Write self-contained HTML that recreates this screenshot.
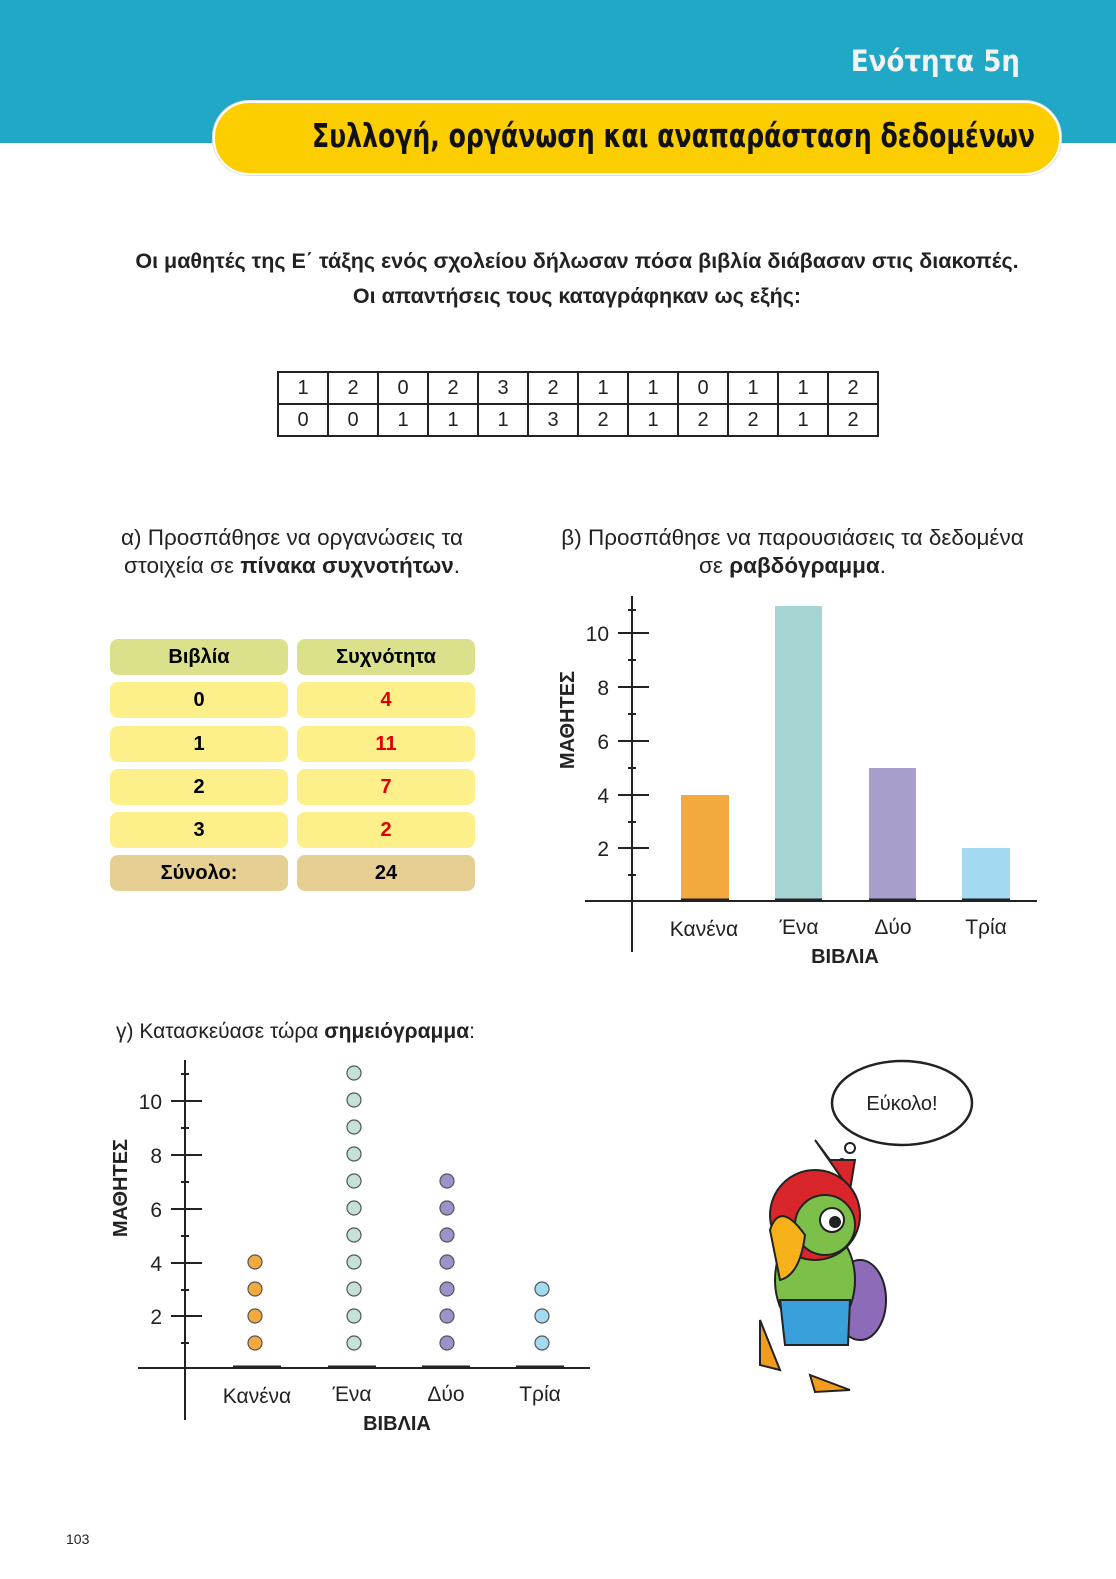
<!DOCTYPE html>
<html><head><meta charset="utf-8"><style>
body{margin:0;width:1116px;height:1579px;position:relative;background:#fff;font-family:"Liberation Sans","DejaVu Sans",sans-serif;overflow:hidden}
.a{position:absolute}
.t{position:absolute;white-space:nowrap}
table.d{position:absolute;left:277px;top:371px;border-collapse:collapse}
table.d td{border:2px solid #222;width:48px;height:30px;text-align:center;font-size:20px;padding:0;color:#222}
.c{position:absolute;border-radius:8px;text-align:center;font-size:20px;font-weight:bold;line-height:36px;height:36px;width:178px}
</style></head><body>
<div class="a" style="left:0;top:0;width:1116px;height:143px;background:#21a8c6"></div>
<div class="t" style="right:96px;top:44px;font-size:29px;font-weight:bold;font-family:'DejaVu Sans Condensed','Liberation Sans Narrow',sans-serif;color:#f2f2f2">Ενότητα 5η</div>
<div class="a" style="left:213px;top:101px;width:844px;height:70px;background:#fcce00;border-radius:36px;border:2px solid #fff;box-shadow:0 0 0 1px #ddd"></div>
<div class="t" style="left:312px;top:116px;font-size:33px;font-weight:bold;font-family:'DejaVu Sans Condensed','Liberation Sans Narrow',sans-serif;color:#111;transform:scaleX(0.847);transform-origin:left">Συλλογή, οργάνωση και αναπαράσταση δεδομένων</div>
<div class="t" style="left:0;width:1154px;text-align:center;top:244px;font-size:21.5px;font-weight:bold;color:#222;line-height:35px">Οι μαθητές της Ε΄ τάξης ενός σχολείου δήλωσαν πόσα βιβλία διάβασαν στις διακοπές.<br>Οι απαντήσεις τους καταγράφηκαν ως εξής:</div>
<table class="d"><tr><td>1</td><td>2</td><td>0</td><td>2</td><td>3</td><td>2</td><td>1</td><td>1</td><td>0</td><td>1</td><td>1</td><td>2</td></tr><tr><td>0</td><td>0</td><td>1</td><td>1</td><td>1</td><td>3</td><td>2</td><td>1</td><td>2</td><td>2</td><td>1</td><td>2</td></tr></table>
<div class="t" style="left:90px;width:404px;text-align:center;top:524px;font-size:22.5px;color:#222;line-height:28px">α) Προσπάθησε να οργανώσεις τα<br>στοιχεία σε <b>πίνακα συχνοτήτων</b>.</div>
<div class="t" style="left:540px;width:505px;text-align:center;top:524px;font-size:22.5px;color:#222;line-height:28px">β) Προσπάθησε να παρουσιάσεις τα δεδομένα<br>σε <b>ραβδόγραμμα</b>.</div>
<div class="c" style="left:110px;top:639px;background:#dbe08a">Βιβλία</div><div class="c" style="left:297px;top:639px;background:#dbe08a">Συχνότητα</div>
<div class="c" style="left:110px;top:682px;background:#fdf08a">0</div><div class="c" style="left:297px;top:682px;background:#fdf08a;color:#d00">4</div>
<div class="c" style="left:110px;top:726px;background:#fdf08a">1</div><div class="c" style="left:297px;top:726px;background:#fdf08a;color:#d00">11</div>
<div class="c" style="left:110px;top:769px;background:#fdf08a">2</div><div class="c" style="left:297px;top:769px;background:#fdf08a;color:#d00">7</div>
<div class="c" style="left:110px;top:812px;background:#fdf08a">3</div><div class="c" style="left:297px;top:812px;background:#fdf08a;color:#d00">2</div>
<div class="c" style="left:110px;top:855px;background:#e6cf92">Σύνολο:</div><div class="c" style="left:297px;top:855px;background:#e6cf92">24</div>
<svg class="a" style="left:0;top:0" width="1116" height="1579" font-family="Liberation Sans,sans-serif">
<g stroke="#222" stroke-width="2">
<line x1="632" y1="596" x2="632" y2="952"/><line x1="585" y1="901" x2="1037" y2="901"/>
<line x1="618" y1="633" x2="649" y2="633"/><line x1="618" y1="687" x2="649" y2="687"/><line x1="618" y1="741" x2="649" y2="741"/><line x1="618" y1="795" x2="649" y2="795"/><line x1="618" y1="848" x2="649" y2="848"/>
<line x1="628" y1="610" x2="636" y2="610"/><line x1="628" y1="660" x2="636" y2="660"/><line x1="628" y1="714" x2="636" y2="714"/><line x1="628" y1="768" x2="636" y2="768"/><line x1="628" y1="822" x2="636" y2="822"/><line x1="628" y1="875" x2="636" y2="875"/>
</g>
<rect x="681" y="795" width="48" height="106" fill="#f3a93e"/><rect x="775" y="606" width="47" height="295" fill="#a6d5d4"/><rect x="869" y="768" width="47" height="133" fill="#a89dcb"/><rect x="962" y="848" width="48" height="53" fill="#a4d9f2"/>
<g fill="#222" font-size="21" text-anchor="end"><text x="609" y="641">10</text><text x="609" y="695">8</text><text x="609" y="749">6</text><text x="609" y="803">4</text><text x="609" y="856">2</text></g>
<g fill="#222" font-size="21" text-anchor="middle"><text x="704" y="936">Κανένα</text><text x="799" y="934">Ένα</text><text x="893" y="934">Δύο</text><text x="986" y="934">Τρία</text>
<text x="845" y="963" font-weight="bold" font-size="20">ΒΙΒΛΙΑ</text>
<text transform="translate(574,720) rotate(-90)" font-weight="bold" font-size="20">ΜΑΘΗΤΕΣ</text>
<text x="397" y="1430" font-weight="bold" font-size="20">ΒΙΒΛΙΑ</text>
<text transform="translate(127,1188) rotate(-90)" font-weight="bold" font-size="20">ΜΑΘΗΤΕΣ</text>
<text x="257" y="1403">Κανένα</text><text x="352" y="1401">Ένα</text><text x="446" y="1401">Δύο</text><text x="540" y="1401">Τρία</text></g>
<g fill="#222" font-size="21" text-anchor="end"><text x="162" y="1109">10</text><text x="162" y="1163">8</text><text x="162" y="1217">6</text><text x="162" y="1271">4</text><text x="162" y="1324">2</text></g>
<g stroke="#222" stroke-width="2">
<line x1="185" y1="1060" x2="185" y2="1420"/><line x1="138" y1="1368" x2="590" y2="1368"/>
<line x1="171" y1="1101" x2="202" y2="1101"/><line x1="171" y1="1155" x2="202" y2="1155"/><line x1="171" y1="1209" x2="202" y2="1209"/><line x1="171" y1="1263" x2="202" y2="1263"/><line x1="171" y1="1316" x2="202" y2="1316"/>
<line x1="181" y1="1074" x2="189" y2="1074"/><line x1="181" y1="1128" x2="189" y2="1128"/><line x1="181" y1="1182" x2="189" y2="1182"/><line x1="181" y1="1236" x2="189" y2="1236"/><line x1="181" y1="1290" x2="189" y2="1290"/><line x1="181" y1="1343" x2="189" y2="1343"/>
</g>
<g stroke="#222" stroke-width="3"><line x1="681" y1="900" x2="729" y2="900"/><line x1="775" y1="900" x2="822" y2="900"/><line x1="869" y1="900" x2="916" y2="900"/><line x1="962" y1="900" x2="1010" y2="900"/>
<line x1="233" y1="1367" x2="281" y2="1367"/><line x1="328" y1="1367" x2="376" y2="1367"/><line x1="422" y1="1367" x2="470" y2="1367"/><line x1="516" y1="1367" x2="564" y2="1367"/></g>
<g stroke="#555" stroke-width="1.2">
<g fill="#f3a93e"><circle cx="255" cy="1343" r="7"/><circle cx="255" cy="1316" r="7"/><circle cx="255" cy="1289" r="7"/><circle cx="255" cy="1262" r="7"/></g>
<g fill="#c4e3d6"><circle cx="354" cy="1343" r="7"/><circle cx="354" cy="1316" r="7"/><circle cx="354" cy="1289" r="7"/><circle cx="354" cy="1262" r="7"/><circle cx="354" cy="1235" r="7"/><circle cx="354" cy="1208" r="7"/><circle cx="354" cy="1181" r="7"/><circle cx="354" cy="1154" r="7"/><circle cx="354" cy="1127" r="7"/><circle cx="354" cy="1100" r="7"/><circle cx="354" cy="1073" r="7"/></g>
<g fill="#9d93cc"><circle cx="447" cy="1343" r="7"/><circle cx="447" cy="1316" r="7"/><circle cx="447" cy="1289" r="7"/><circle cx="447" cy="1262" r="7"/><circle cx="447" cy="1235" r="7"/><circle cx="447" cy="1208" r="7"/><circle cx="447" cy="1181" r="7"/></g>
<g fill="#a4d9f2"><circle cx="542" cy="1343" r="7"/><circle cx="542" cy="1316" r="7"/><circle cx="542" cy="1289" r="7"/></g>
</g>
<ellipse cx="902" cy="1103" rx="70" ry="42" fill="#fff" stroke="#222" stroke-width="2.5"/>
<text x="902" y="1110" font-size="20" text-anchor="middle" fill="#222">Εύκολο!</text>
<circle cx="850" cy="1148" r="5" fill="#fff" stroke="#222" stroke-width="2"/>
<circle cx="842" cy="1162" r="3" fill="#fff" stroke="#222" stroke-width="2"/>
<g stroke="#222" stroke-width="2">
<path d="M815 1140 L830 1160 L855 1160 L850 1190 Z" fill="#d9262b"/>
<ellipse cx="860" cy="1300" rx="26" ry="40" fill="#8e6bb8"/>
<ellipse cx="815" cy="1280" rx="40" ry="55" fill="#7cc04a"/>
<path d="M780 1300 L850 1300 L848 1345 L785 1345 Z" fill="#3aa0dc"/>
<path d="M760 1320 L780 1370 L760 1365 Z" fill="#f39b1e"/>
<path d="M810 1375 L850 1390 L815 1392 Z" fill="#f39b1e"/>
<ellipse cx="815" cy="1215" rx="45" ry="45" fill="#d9262b"/>
<ellipse cx="825" cy="1225" rx="30" ry="30" fill="#7cc04a"/>
<circle cx="832" cy="1220" r="12" fill="#fff"/><circle cx="835" cy="1222" r="5" fill="#222"/>
<path d="M770 1230 Q780 1200 805 1235 Q800 1275 780 1280 Z" fill="#f7b21b"/>
</g>
<text x="116" y="1038" font-size="21" fill="#222">γ) Κατασκεύασε τώρα <tspan font-weight="bold">σημειόγραμμα</tspan>:</text>
<text x="66" y="1544" font-size="14" fill="#222">103</text>
</svg>
</body></html>
